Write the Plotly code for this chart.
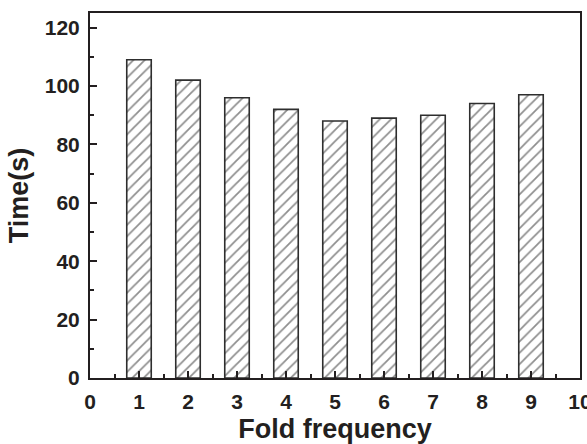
import plotly.graph_objects as go

fold = [1, 2, 3, 4, 5, 6, 7, 8, 9]
time_s = [109, 102, 96, 92, 88, 89, 90, 94, 97]
x_ticks = [0, 1, 2, 3, 4, 5, 6, 7, 8, 9, 10]
y_ticks = [0, 20, 40, 60, 80, 100, 120]

ink = "#231f20"

fig = go.Figure()
fig.add_trace(go.Bar(
    x=fold, y=time_s, width=0.5,
    marker=dict(
        color="white",
        line=dict(color="#2e2e2e", width=1.6),
        pattern=dict(shape="/", fgcolor="#1e1e1e", bgcolor="white", size=8, solidity=0.22),
    ),
    showlegend=False,
))

axis_common = dict(
    showline=True, linecolor=ink, linewidth=2, mirror=True,
    ticks="inside", ticklen=7, tickwidth=1.5, tickcolor=ink,
    showgrid=False, zeroline=False, automargin=False,
    tickfont=dict(family="Liberation Sans, Arial", size=21, color=ink),
)

fig.update_xaxes(
    range=[0, 10], tickvals=x_ticks, ticktext=[f"<b>{v}</b>" for v in x_ticks],
    ticklabeloverflow="allow",
    minor=dict(dtick=0.5, ticks="inside", ticklen=4, tickwidth=1.5, tickcolor=ink),
    title=dict(text="<b>Fold frequency</b>", font=dict(family="Liberation Sans, Arial", size=27, color=ink), standoff=10),
    ticklabelstandoff=4,
    **axis_common,
)
fig.update_yaxes(
    range=[0, 125], tickvals=y_ticks, ticktext=[f"<b>{v}</b>" for v in y_ticks],
    minor=dict(dtick=10, ticks="inside", ticklen=4, tickwidth=1.5, tickcolor=ink),
    title=dict(text="<b>Time(s)</b>", font=dict(family="Liberation Sans, Arial", size=27, color=ink), standoff=8),
    ticklabelstandoff=4,
    **axis_common,
)

fig.update_layout(
    width=587, height=444,
    margin=dict(l=90, r=7, t=13, b=66),
    paper_bgcolor="white", plot_bgcolor="white",
)

fig.write_html("out.html")
